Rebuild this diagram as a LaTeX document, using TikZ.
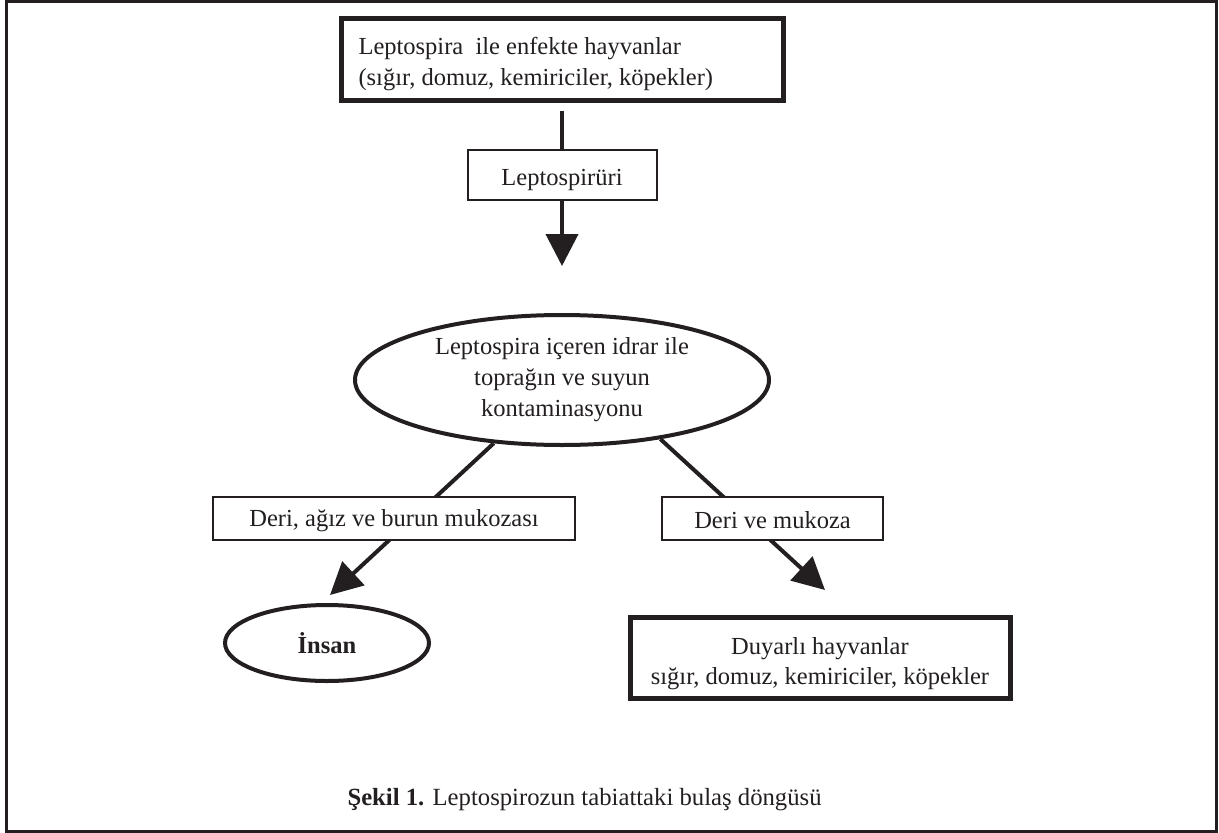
\documentclass[tikz,border=0pt]{standalone}
\usepackage{fontspec}
\setmainfont{Liberation Serif}
\usetikzlibrary{arrows.meta,shapes.geometric}
\definecolor{ink}{HTML}{231F20}
\begin{document}
\begin{tikzpicture}[x=1pt,y=-1pt,
  every node/.style={text=ink, font=\fontsize{24.5}{31}\selectfont},
  thinbox/.style={draw=ink, line width=2pt, fill=white, inner sep=0pt},
  thickbox/.style={draw=ink, line width=5pt, fill=white, inner sep=0pt},
  oval/.style={ellipse, draw=ink, line width=4pt, fill=white, inner sep=0pt},
  conn/.style={draw=ink, line width=4pt},
  arr/.style={conn, -{Triangle[length=32pt,width=32pt]}}]
  % page and frame
  \useasboundingbox (0,0) rectangle (1219,833);
  \draw[ink, line width=3pt] (6,1.5) rectangle (1216,831);

  % boxes and ovals (box texts sit a little below the middle)
  \node[thickbox, minimum width=442pt, minimum height=82pt] (src) at (562,59) {};
  \node[anchor=west, align=left, yshift=-5pt] (srcText) at (355,59)
    {Leptospira\ \ ile enfekte hayvanlar\\(sığır, domuz, kemiriciler, köpekler)};
  \node[thinbox, minimum width=189pt, minimum height=50pt] (urine) at (562,175) {};
  \node[yshift=-5pt] (urineText) at (urine.center) {Leptospirüri};
  \node[oval, minimum width=414pt, minimum height=130pt, align=center]
    (cont) at (562,380) {Leptospira içeren idrar ile\\toprağın ve suyun\\kontaminasyonu};
  \node[oval, minimum width=204pt, minimum height=76pt, font=\fontsize{24.5}{31}\selectfont\bfseries]
    (human) at (327,643) {İnsan};
  \node[thickbox, minimum width=380pt, minimum height=81pt] (animals) at (820,657.5) {};
  \node[align=center, yshift=-6pt, font=\fontsize{24.5}{29.5}\selectfont] (animalsText) at (animals.center)
    {Duyarlı hayvanlar\\sığır, domuz, kemiriciler, köpekler};

  % free ends of the two lower arrows
  \coordinate (tipL) at (330,595);
  \coordinate (tipR) at (825,590);

  % connectors
  \draw[conn, shorten <=8pt] (src) -- (urine);
  \draw[arr, shorten >=47pt] (urine) -- (cont);
  \draw[arr] (cont) -- (tipL);
  \draw[arr] (cont.-31) -- (tipR);

  % route labels drawn over the arrows
  \node[thinbox, minimum width=362pt, minimum height=43pt] (lblL) at (394,518.5) {};
  \node[yshift=-2pt] (lblLText) at (lblL.center) {Deri, ağız ve burun mukozası};
  \node[thinbox, minimum width=221pt, minimum height=43pt] (lblR) at (772.5,518.5) {};
  \node[yshift=-2pt] (lblRText) at (lblR.center) {Deri ve mukoza};

  % caption
  \node[anchor=west, font=\fontsize{24.7}{30}\selectfont] (cap) at (344,800)
    {\textbf{Şekil 1.} Leptospirozun tabiattaki bulaş döngüsü};
\end{tikzpicture}
\end{document}
